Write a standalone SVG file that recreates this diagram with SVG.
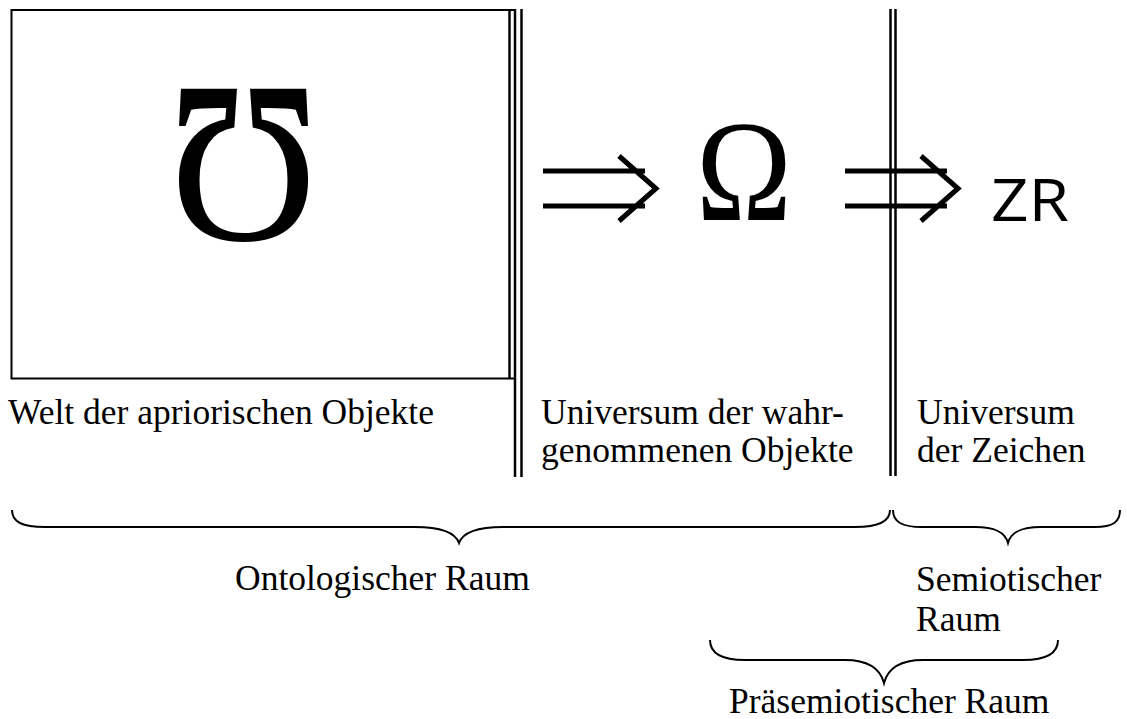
<svg xmlns="http://www.w3.org/2000/svg" width="1127" height="719" viewBox="0 0 1127 719">
  <style>
    .lbl { font-family: "Liberation Serif", "DejaVu Serif", serif; font-size: 35.5px; fill: #000; }
    .big { font-family: "Liberation Serif", "DejaVu Serif", serif; fill: #000; }
    .sans { font-family: "Open Sans", "Liberation Sans", sans-serif; fill: #000; }
    .sep { stroke: #000; stroke-width: 2.5; fill: none; }
    .brace { stroke: #000; stroke-width: 2; fill: none; }
    .arrow { stroke: #000; stroke-width: 5; fill: none; }
  </style>
  <rect width="1127" height="719" fill="#fff"/>

  <g id="world">
    <path d="M516 10 H11.5 V378.5 H516" fill="none" stroke="#000" stroke-width="2"/>
    <line x1="509.5" y1="10" x2="509.5" y2="378.5" stroke="#000" stroke-width="2.5"/>
    <text class="big" x="243.5" y="240" font-size="232" text-anchor="middle" textLength="150" lengthAdjust="spacingAndGlyphs">Ʊ</text>
    <text class="lbl" x="8" y="424">Welt der apriorischen Objekte</text>
  </g>

  <g id="separators">
    <line class="sep" x1="515" y1="9" x2="515" y2="477"/>
    <line class="sep" x1="521.5" y1="9" x2="521.5" y2="477"/>
    <line class="sep" x1="890.5" y1="9" x2="890.5" y2="476"/>
    <line class="sep" x1="895.5" y1="9" x2="895.5" y2="476"/>
  </g>

  <g id="perceived">
    <text class="big" x="744" y="220" font-size="145" text-anchor="middle" textLength="96" lengthAdjust="spacingAndGlyphs">Ω</text>
    <text class="lbl" x="541" y="424">Universum der wahr-</text>
    <text class="lbl" x="541" y="462">genommenen Objekte</text>
  </g>

  <g id="signs">
    <text class="sans" x="991" y="221" font-size="58" textLength="78" lengthAdjust="spacingAndGlyphs">ZR</text>
    <text class="lbl" x="917" y="424">Universum</text>
    <text class="lbl" x="917" y="462">der Zeichen</text>
  </g>

  <g id="connectors">
    <path class="arrow" d="M543 171 H645 M543 206 H645 M619 156 L656 188.5 L619 221"/>
    <path class="arrow" d="M845 171 H947 M845 206 H947 M921 156 L958 188.5 L921 221"/>
  </g>

  <g id="ontological">
    <path class="brace" d="M12 510 C12 522 22 527 45 527 L415 527 C440 527 455 532 459 543 C463 532 478 527 503 527 L855 527 C878 527 890 522 890 510"/>
    <text class="lbl" x="235" y="590">Ontologischer Raum</text>
  </g>

  <g id="semiotic">
    <path class="brace" d="M893 510 C893 522 902 527 922 527 L975 527 C995 527 1005 532 1008 543 C1011 532 1021 527 1041 527 L1095 527 C1113 527 1120 522 1120 510"/>
    <text class="lbl" x="916" y="591">Semiotischer</text>
    <text class="lbl" x="916" y="631">Raum</text>
  </g>

  <g id="presemiotic">
    <path class="brace" d="M710 640 C710 653 720 660 745 660 L845 660 C868 660 880 668 884 683 C888 668 900 660 923 660 L1023 660 C1048 660 1058 653 1058 640"/>
    <text class="lbl" x="729" y="713">Präsemiotischer Raum</text>
  </g>
</svg>
